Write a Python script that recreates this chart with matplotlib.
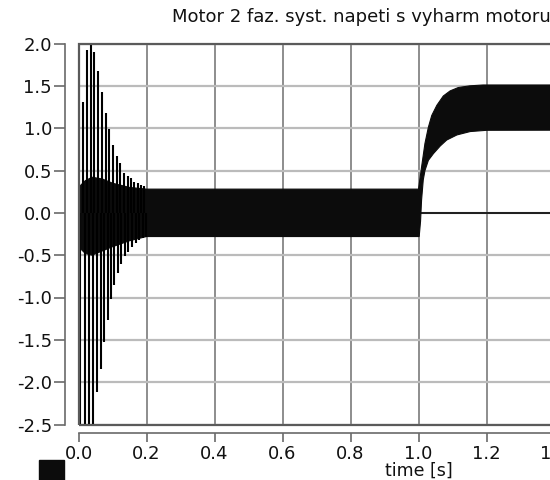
import matplotlib
matplotlib.use("Agg")
import matplotlib.pyplot as plt
from matplotlib.patches import Rectangle
from matplotlib.ticker import FormatStrFormatter, MultipleLocator

plt.rcParams['font.family'] = ['DejaVu Sans']
plt.rcParams['axes.unicode_minus'] = False

# transient spikes (time, value)
up_t = [0.014, 0.024, 0.036, 0.046, 0.058, 0.070, 0.080, 0.091, 0.102, 0.112,
        0.123, 0.134, 0.145, 0.154, 0.163, 0.174, 0.184, 0.193]
up_v = [1.31, 1.92, 2.05, 1.90, 1.68, 1.43, 1.18, 0.99, 0.80, 0.67,
        0.59, 0.47, 0.43, 0.41, 0.37, 0.35, 0.33, 0.32]
lo_t = [0.004, 0.019, 0.031, 0.044, 0.055, 0.066, 0.076, 0.086, 0.095, 0.105,
        0.115, 0.125, 0.137, 0.146, 0.156, 0.168, 0.178, 0.189, 0.199]
lo_v = [-2.6, -2.6, -2.6, -2.6, -2.12, -1.85, -1.52, -1.26, -1.02, -0.85,
        -0.71, -0.61, -0.51, -0.46, -0.40, -0.36, -0.32, -0.30, -0.28]

# envelope of the dense oscillation band
band_hi_t = [0.0, 0.02, 0.04, 0.07, 0.10, 0.15, 0.20, 1.0, 1.009, 1.019, 1.029,
             1.039, 1.054, 1.073, 1.093, 1.117, 1.151, 1.19, 2.0]
band_hi_v = [0.30, 0.38, 0.42, 0.40, 0.35, 0.30, 0.28, 0.28, 0.54, 0.82, 1.01,
             1.15, 1.27, 1.38, 1.44, 1.48, 1.50, 1.51, 1.51]
band_lo_t = [0.0, 0.02, 0.04, 0.07, 0.10, 0.15, 0.20, 1.002, 1.006, 1.009, 1.014,
             1.019, 1.029, 1.044, 1.064, 1.083, 1.113, 1.152, 1.201, 2.0]
band_lo_v = [-0.40, -0.48, -0.50, -0.45, -0.40, -0.33, -0.28, -0.28, -0.10, 0.15, 0.39,
             0.50, 0.62, 0.70, 0.79, 0.86, 0.92, 0.96, 0.975, 0.98]

zero_t = [0.0, 2.0]
zero_v = [0.0, 0.0]

x_ticks = [0.0, 0.2, 0.4, 0.6, 0.8, 1.0, 1.2, 1.4, 1.6, 1.8, 2.0]

fig = plt.figure(figsize=(5.5, 4.8), dpi=100)
ax = fig.add_axes([78.5 / 550, 55.5 / 480, 680 / 550, 381 / 480])

ax.set_xlim(0, 2.0)
ax.set_ylim(-2.5, 2.0)

ax.fill(band_hi_t + band_lo_t[::-1], band_hi_v + band_lo_v[::-1],
        color='#0c0c0c', lw=0.8, zorder=3)
ax.vlines(up_t, 0, up_v, color='black', lw=1.5, zorder=3)
ax.vlines(lo_t, lo_v, 0, color='black', lw=1.5, zorder=3)
ax.plot(zero_t, zero_v, color='#111111', lw=1.3, zorder=2.5)

ax.set_xticks(x_ticks)
ax.yaxis.set_major_locator(MultipleLocator(0.5))
ax.xaxis.set_major_formatter(FormatStrFormatter('%.1f'))
ax.yaxis.set_major_formatter(FormatStrFormatter('%.1f'))

ax.xaxis.grid(True, color='#858585', lw=1.3)
ax.yaxis.grid(True, color='#bbbbbb', lw=1.6)
ax.set_axisbelow(True)

for s in ['top', 'right']:
    ax.spines[s].set_visible(False)
ax.spines['left'].set_position(('outward', 10))
ax.spines['bottom'].set_position(('outward', 6))
for s in ['left', 'bottom']:
    ax.spines[s].set_color('#6a6a6a')
    ax.spines[s].set_linewidth(1.2)

ax.tick_params(axis='y', length=8, width=1.2, color='#6a6a6a', pad=1,
               labelsize=13, labelcolor='#111111')
ax.tick_params(axis='x', length=6.5, width=1.2, color='#6a6a6a', pad=2,
               labelsize=13, labelcolor='#111111')

# plot frame
ax.add_patch(Rectangle((0, 0), 1, 1, transform=ax.transAxes, fill=False,
                       ec='#5a5a5a', lw=1.6, clip_on=False, zorder=4))

ax.set_xlabel('time [s]', fontsize=12.5, labelpad=-1, color='#111111')

fig.text(172 / 550, 1 - 17 / 480, 'Motor 2 faz. syst. napeti s vyharm motoru',
         fontsize=13, ha='left', va='center', color='#111111')

# legend swatch
fig.add_artist(Rectangle((39 / 550, -5 / 480), 25 / 550, 25 / 480,
                         transform=fig.transFigure, color='#0c0c0c'))

fig.savefig('out.png', dpi=100)
